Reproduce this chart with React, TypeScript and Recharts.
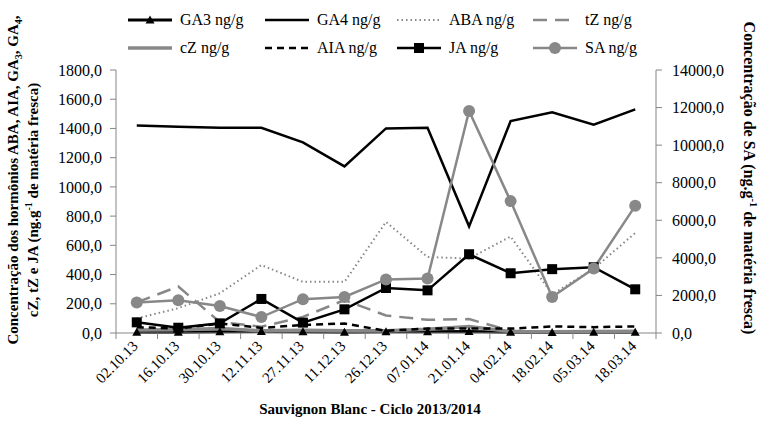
import { LineChart, Line, XAxis, YAxis } from "recharts";

const dates = ["02.10.13", "16.10.13", "30.10.13", "12.11.13", "27.11.13", "11.12.13", "26.12.13", "07.01.14", "21.01.14", "04.02.14", "18.02.14", "05.03.14", "18.03.14"];
const ga3 = [5, 5, 8, 10, 8, 5, 8, 8, 10, 5, 3, 5, 5];
const ga4 = [1420, 1412, 1405, 1405, 1305, 1140, 1400, 1405, 730, 1450, 1510, 1425, 1530];
const aba = [100, 170, 272, 465, 350, 350, 760, 520, 510, 660, 265, 440, 685];
const tz = [210, 318, 75, 43, 110, 225, 120, 90, 95, 15, 10, 10, 10];
const cz = [20, 22, 30, 15, 18, 15, 15, 25, 45, 10, 8, 10, 12];
const aia = [40, 30, 65, 35, 55, 65, 15, 30, 30, 30, 45, 40, 45];
const ja = [73, 36, 66, 233, 71, 162, 308, 292, 539, 409, 437, 450, 299];
const sa = [1620, 1743, 1440, 850, 1800, 1920, 2850, 2900, 11815, 7020, 1920, 3430, 6770];

const leftTicks = [0, 200, 400, 600, 800, 1000, 1200, 1400, 1600, 1800];
const rightTicks = [0, 2000, 4000, 6000, 8000, 10000, 12000, 14000];

const data = dates.map((d, i) => ({
  date: d, ga3: ga3[i], ga4: ga4[i], aba: aba[i], tz: tz[i],
  cz: cz[i], aia: aia[i], ja: ja[i], sa: sa[i],
}));

const FONT = "Liberation Serif, DejaVu Serif, Times New Roman, serif";
const GRAY = "#888888";
const AXIS = "#868686";

const fmt = (v: number) => v.toFixed(1).replace(".", ",");

// category labels rotated -45deg, with Excel-style tick marks between categories
const XTick = ({ x, y, payload, index }: any) => {
  const half = payload?.offset || 20.77;
  return (
    <g>
      <line x1={x - half} x2={x - half} y1={y - 8} y2={y - 2} stroke={AXIS} />
      {index === dates.length - 1 && (
        <line x1={x + half} x2={x + half} y1={y - 8} y2={y - 2} stroke={AXIS} />
      )}
      <text x={x + 2} y={y + 6} textAnchor="end" fontSize={15} fontFamily={FONT} fill="#000"
        transform={`rotate(-45, ${x + 2}, ${y + 6})`}>
        {payload.value}
      </text>
    </g>
  );
};

const Triangle = ({ cx, cy }: any) => (
  <path d={`M${cx},${cy - 4.5} L${cx + 4.5},${cy + 3.5} L${cx - 4.5},${cy + 3.5} Z`} fill="#000" />
);
const Square = ({ cx, cy }: any) => (
  <rect x={cx - 5} y={cy - 5} width={10} height={10} fill="#000" />
);
const Circle = ({ cx, cy }: any) => <circle cx={cx} cy={cy} r={6} fill={GRAY} />;

type Item = { label: string; x: number; y: number; stroke: string; width: number; dash?: string; marker?: "tri" | "sq" | "circ" };

const legendItems: Item[] = [
  { label: "GA3 ng/g", x: 128, y: 20, stroke: "#000", width: 3, marker: "tri" },
  { label: "GA4 ng/g", x: 265, y: 20, stroke: "#000", width: 2.5 },
  { label: "ABA ng/g", x: 397, y: 20, stroke: GRAY, width: 2, dash: "1.5 3" },
  { label: "tZ ng/g", x: 533, y: 20, stroke: GRAY, width: 2.5, dash: "14 8" },
  { label: "cZ ng/g", x: 128, y: 48, stroke: GRAY, width: 3.5 },
  { label: "AIA ng/g", x: 265, y: 48, stroke: "#000", width: 2.5, dash: "7 5" },
  { label: "JA ng/g", x: 397, y: 48, stroke: "#000", width: 2.5, marker: "sq" },
  { label: "SA ng/g", x: 533, y: 48, stroke: GRAY, width: 2.5, marker: "circ" },
];

function Overlay() {
  return (
    <svg width={760} height={430} style={{ position: "absolute", left: 0, top: 0, pointerEvents: "none", fontFamily: FONT }}>
      {legendItems.map((it) => {
        const mid = it.x + 22;
        return (
          <g key={it.label}>
            <line x1={it.x} x2={it.x + 44} y1={it.y} y2={it.y} stroke={it.stroke}
              strokeWidth={it.width} strokeDasharray={it.dash} />
            {it.marker === "tri" && <Triangle cx={mid} cy={it.y} />}
            {it.marker === "sq" && <Square cx={mid} cy={it.y} />}
            {it.marker === "circ" && <Circle cx={mid} cy={it.y} />}
            <text x={it.x + 52} y={it.y + 5} fontSize={16} fill="#000">{it.label}</text>
          </g>
        );
      })}

      <text transform="translate(18, 180) rotate(-90)" textAnchor="middle" fontSize={15} fontWeight="bold" fill="#000">
        Concentração dos hormônios ABA, AIA, GA<tspan fontSize={10} dy={4}>3</tspan>
        <tspan dy={-4}>, GA</tspan><tspan fontSize={10} dy={4}>4</tspan><tspan dy={-4}>,</tspan>
      </text>
      <text transform="translate(38, 200) rotate(-90)" textAnchor="middle" fontSize={15} fontWeight="bold" fill="#000">
        cZ, tZ e JA  (ng.g<tspan fontSize={10} dy={-6}>-1</tspan><tspan dy={6}> de matéria fresca)</tspan>
      </text>
      <text transform="translate(744, 178) rotate(90)" textAnchor="middle" fontSize={16} fontWeight="bold" fill="#000">
        Concentração de SA  (ng.g<tspan fontSize={10.5} dy={-6}>-1</tspan><tspan dy={6}> de matéria fresca)</tspan>
      </text>
      <text x={370} y={414} textAnchor="middle" fontSize={15} fontWeight="bold" fill="#000">
        Sauvignon Blanc - Ciclo 2013/2014
      </text>
    </svg>
  );
}

export default function App() {
  const tickStyle = { fontSize: 16, fill: "#000", fontFamily: FONT };
  return (
    <div style={{ position: "relative", width: 760, height: 430, background: "#fff", fontFamily: FONT }}>
      <style>{"body{margin:0}"}</style>
      <LineChart width={760} height={430} data={data} margin={{ top: 70, right: 0, bottom: 0, left: 0 }}>
        <XAxis dataKey="date" scale="band" height={97} stroke={AXIS} tickLine={false} interval={0} tick={<XTick />} />
        <YAxis yAxisId="l" width={116} domain={[0, 1800]} ticks={leftTicks} tickFormatter={fmt}
          stroke={AXIS} tickSize={6} tickMargin={8} tick={tickStyle} />
        <YAxis yAxisId="r" orientation="right" width={104} domain={[0, 14000]} ticks={rightTicks}
          tickFormatter={fmt} stroke={AXIS} tickSize={6} tickMargin={10} tick={tickStyle} />
        <Line yAxisId="l" dataKey="ga3" stroke="#000" strokeWidth={3} dot={<Triangle />} isAnimationActive={false} />
        <Line yAxisId="l" dataKey="ga4" stroke="#000" strokeWidth={2.5} dot={false} isAnimationActive={false} />
        <Line yAxisId="l" dataKey="aba" stroke={GRAY} strokeWidth={2} strokeDasharray="1.5 3" dot={false} isAnimationActive={false} />
        <Line yAxisId="l" dataKey="tz" stroke={GRAY} strokeWidth={2.5} strokeDasharray="14 8" dot={false} isAnimationActive={false} />
        <Line yAxisId="l" dataKey="cz" stroke={GRAY} strokeWidth={3.5} dot={false} isAnimationActive={false} />
        <Line yAxisId="l" dataKey="aia" stroke="#000" strokeWidth={2.5} strokeDasharray="7 5" dot={false} isAnimationActive={false} />
        <Line yAxisId="l" dataKey="ja" stroke="#000" strokeWidth={2.5} dot={<Square />} isAnimationActive={false} />
        <Line yAxisId="r" dataKey="sa" stroke={GRAY} strokeWidth={2.5} dot={<Circle />} isAnimationActive={false} />
      </LineChart>
      <Overlay />
    </div>
  );
}
